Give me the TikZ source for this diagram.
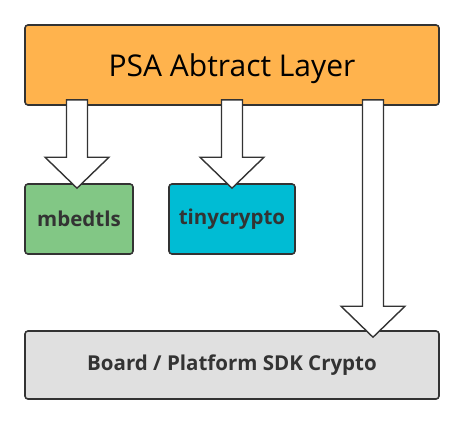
\documentclass[tikz,border=0pt]{standalone}
\usepackage{fontspec}
\setmainfont{Open Sans}
\usetikzlibrary{calc}
\definecolor{psaorange}{HTML}{FFB34D}
\definecolor{mbedgreen}{HTML}{82C785}
\definecolor{tinycyan}{HTML}{00BCD4}
\definecolor{boardgray}{HTML}{E0E0E0}
\definecolor{edgegray}{HTML}{333333}
% block arrow: #1 tip, #2 node it leaves
\newcommand{\fatarrow}[2]{%
  \filldraw[fatarrow] let \p1=#1, \p2=(#2.south) in
    (\x1-10.5pt,\y2+6pt) -- (\x1-10.5pt,\y1+31pt) -- (\x1-32pt,\y1+31pt) -- (\x1,\y1)
    -- (\x1+32pt,\y1+31pt) -- (\x1+10.5pt,\y1+31pt) -- (\x1+10.5pt,\y2+6pt) -- cycle;}
\begin{document}
\begin{tikzpicture}[x=1pt, y=-1pt,
    box/.style={draw=edgegray, line width=1.6pt, rounded corners=3pt, inner sep=0pt,
      text=edgegray, font=\fontsize{20.5}{23}\selectfont\bfseries},
    fatarrow/.style={draw=edgegray, fill=white, line width=1.4pt, line join=miter}]
	  \useasboundingbox (0,0) rectangle (464,424);
	  \node[box, fill=psaorange, minimum width=414pt, minimum height=80pt, text=black, text depth=0pt,
	    font=\fontsize{30}{33}\selectfont] (psa) at (232,65) {PSA Abtract Layer};
	  \node[box, fill=mbedgreen, minimum width=108pt, minimum height=70pt] (mbed) at (79,219) {mbedtls};
	  \node[box, fill=tinycyan, minimum width=126pt, minimum height=70pt] (tiny) at (232,219) {tinycrypto};
	  \node[box, fill=boardgray, minimum width=414pt, minimum height=68pt] (board) at (232,365) {Board / Platform SDK Crypto};
	  \fatarrow{([xshift=-2pt, yshift=-5pt]mbed.north)}{psa}
	  \fatarrow{([yshift=-5pt]tiny.north)}{psa}
	  \fatarrow{([xshift=141pt, yshift=-7pt]board.north)}{psa}
	\end{tikzpicture}
\end{document}
